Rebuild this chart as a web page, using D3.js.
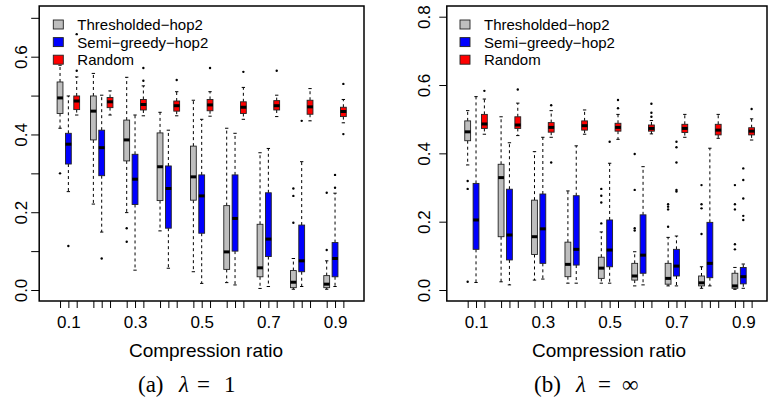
<!DOCTYPE html>
<html>
<head>
<meta charset="utf-8">
<script src="https://cdn.jsdelivr.net/npm/d3@7"></script>
<style>
  body { margin: 0; background: #fff; }
  text { font-family: "Liberation Sans", Arial, Helvetica, sans-serif; fill: #000; }
  .cap { font-family: "Liberation Serif", "Times New Roman", serif; }
</style>
</head>
<body>
<div id="chart"></div>
<script>
// compression ratios (one group of three boxes each)
let ratios = ["0.1", "0.2", "0.3", "0.4", "0.5", "0.6", "0.7", "0.8", "0.9"];
let methods = ["Thresholded\u2212hop2", "Semi\u2212greedy\u2212hop2", "Random"];
let colors = ["#bebebe", "#0000ff", "#ff0000"];

// box stats per ratio: [lower whisker, q1, median, q3, upper whisker]
// (a) lambda = 1
let threshA = [[0.416, 0.454, 0.494, 0.535, 0.578], [0.221, 0.386, 0.46, 0.499, 0.557], [0.199, 0.332, 0.386, 0.437, 0.547],
  [0.152, 0.23, 0.317, 0.404, 0.457], [0.047, 0.231, 0.291, 0.37, 0.488], [0.019, 0.053, 0.098, 0.217, 0.416],
  [0.004, 0.034, 0.057, 0.169, 0.353], [0.002, 0.006, 0.02, 0.05, 0.081], [0.002, 0.006, 0.015, 0.037, 0.075]];
let threshAOut = [[0.30], [], [0.159, 0.124], [], [], [], [], [0.261, 0.242, 0.173], [0.25, 0.103]];
let semiA = [[0.253, 0.324, 0.375, 0.403, 0.499], [0.149, 0.294, 0.366, 0.411, 0.501], [0.051, 0.22, 0.285, 0.349, 0.45],
  [0.056, 0.159, 0.261, 0.319, 0.411], [0.017, 0.146, 0.242, 0.296, 0.439], [0.013, 0.1, 0.184, 0.296, 0.403],
  [0.009, 0.086, 0.131, 0.25, 0.364], [0.009, 0.047, 0.075, 0.167, 0.33], [0.009, 0.034, 0.081, 0.122, 0.249]];
let semiAOut = [[0.113], [0.081], [], [], [], [], [], [0.435], [0.296, 0.263]];
let randA = [[0.45, 0.464, 0.486, 0.499, 0.548], [0.45, 0.469, 0.484, 0.495, 0.512], [0.448, 0.463, 0.477, 0.49, 0.525],
  [0.448, 0.46, 0.474, 0.486, 0.51], [0.447, 0.461, 0.476, 0.49, 0.51], [0.439, 0.454, 0.47, 0.484, 0.521],
  [0.446, 0.463, 0.474, 0.487, 0.501], [0.435, 0.452, 0.471, 0.488, 0.518], [0.43, 0.446, 0.459, 0.47, 0.49]];
let randAOut = [[0.564, 0.658], [], [0.538, 0.571], [0.54], [0.571], [0.561], [0.564], [], [0.53, 0.401]];

// (b) lambda = infinity
let threshB = [[0.366, 0.437, 0.463, 0.495, 0.525], [0.024, 0.156, 0.329, 0.368, 0.507], [0.029, 0.104, 0.156, 0.263, 0.405],
  [0.02, 0.039, 0.075, 0.14, 0.29], [0.02, 0.034, 0.064, 0.096, 0.17], [0.012, 0.029, 0.041, 0.078, 0.112],
  [0.012, 0.017, 0.034, 0.078, 0.154], [0.005, 0.012, 0.021, 0.041, 0.068], [0.002, 0.005, 0.012, 0.049, 0.066]];
let threshBOut = [[0.319, 0.296, 0.024], [], [], [], [0.195, 0.256, 0.276, 0.296], [0.174, 0.181, 0.293, 0.398],
  [0.185, 0.236, 0.244, 0.251], [0.164, 0.239, 0.251, 0.307], [0.119, 0.134, 0.236, 0.251, 0.307]];
let semiB = [[0.022, 0.119, 0.205, 0.312, 0.566], [0.015, 0.088, 0.161, 0.295, 0.431], [0.032, 0.078, 0.179, 0.281, 0.447],
  [0.02, 0.073, 0.119, 0.276, 0.422], [0.02, 0.068, 0.117, 0.205, 0.371], [0.015, 0.049, 0.102, 0.22, 0.361],
  [0.012, 0.041, 0.07, 0.119, 0.158], [0.012, 0.036, 0.078, 0.198, 0.415], [0.005, 0.018, 0.039, 0.066, 0.076]];
let semiBOut = [[], [], [], [], [0.434], [], [0.288, 0.293, 0.373, 0.418, 0.434], [], [0.205, 0.217, 0.268, 0.322, 0.356]];
let randB = [[0.456, 0.473, 0.486, 0.514, 0.559], [0.452, 0.473, 0.483, 0.507, 0.547], [0.447, 0.462, 0.476, 0.49, 0.525],
  [0.456, 0.468, 0.481, 0.495, 0.527], [0.441, 0.465, 0.476, 0.488, 0.514], [0.457, 0.465, 0.473, 0.483, 0.496],
  [0.447, 0.461, 0.473, 0.485, 0.514], [0.444, 0.454, 0.468, 0.485, 0.514], [0.439, 0.454, 0.465, 0.475, 0.501]];
let randBOut = [[0.583], [0.587], [0.541, 0.373], [], [0.532, 0.556], [0.507, 0.519, 0.545], [], [], [0.53]];

let yTicksA = [0, 0.1, 0.2, 0.3, 0.4, 0.5, 0.6, 0.7];
let yTicksB = [0, 0.2, 0.4, 0.6, 0.8];

let width = 769, height = 399;
let svg = d3.select("#chart").append("svg")
    .attr("width", width)
    .attr("height", height);

function drawPanel(cfg) {
  let g = svg.append("g");
  let x = d3.scaleLinear().domain([-1.5, 37.5]).range([cfg.x0, cfg.x1]);
  let y = d3.scaleLinear().domain([0, cfg.yMax]).range([290, cfg.yMaxPx]);
  let unit = x(1) - x(0);
  let half = 0.35 * unit, stapleHalf = 0.2 * unit;

  let series = [cfg.thresh, cfg.semi, cfg.rand];
  let outs = [cfg.threshOut, cfg.semiOut, cfg.randOut];

  series.forEach((arr, j) => {
    arr.forEach((s, i) => {
      let cx = x(4 * i + j + 1);
      let b = g.append("g");
      // whiskers
      [[s[3], s[4]], [s[1], s[0]]].forEach(w => {
        b.append("line")
          .attr("x1", cx).attr("x2", cx)
          .attr("y1", y(w[0])).attr("y2", y(w[1]))
          .attr("stroke", "#000").attr("stroke-width", 1)
          .attr("stroke-dasharray", "3,3");
        b.append("line")
          .attr("x1", cx - stapleHalf).attr("x2", cx + stapleHalf)
          .attr("y1", y(w[1])).attr("y2", y(w[1]))
          .attr("stroke", "#000").attr("stroke-width", 1);
      });
      b.append("rect")
        .attr("x", cx - half).attr("width", 2 * half)
        .attr("y", y(s[3])).attr("height", y(s[1]) - y(s[3]))
        .attr("fill", colors[j]).attr("stroke", "#222").attr("stroke-width", 0.9);
      b.append("line")
        .attr("x1", cx - half).attr("x2", cx + half)
        .attr("y1", y(s[2])).attr("y2", y(s[2]))
        .attr("stroke", "#000").attr("stroke-width", 3);
      outs[j][i].forEach(v => {
        b.append("circle")
          .attr("cx", cx).attr("cy", y(v)).attr("r", 1.2)
          .attr("fill", "#000");
      });
    });
  });

  // x axis: one tick per box, labels on every other group
  let positions = [], labels = {};
  ratios.forEach((r, i) => {
    [0, 1, 2].forEach(j => positions.push(4 * i + j + 1));
    if (i % 2 == 0) labels[4 * i + 2] = r;
  });
  let xAxis = g.append("g")
    .attr("transform", "translate(0,301)")
    .call(d3.axisBottom(x).tickValues(positions).tickSize(7).tickPadding(8)
      .tickFormat(d => labels[d] || ""));
  xAxis.select(".domain").remove();
  xAxis.selectAll("text").style("font-size", "17px").attr("font-family", null);

  let yAxis = g.append("g")
    .attr("transform", "translate(" + cfg.x0 + ",0)")
    .call(d3.axisLeft(y).tickValues(cfg.yTicks).tickSize(cfg.tickLen)
      .tickFormat(d => (Math.round(d * 10) % 2 == 0) ? d3.format(".1f")(d) : ""));
  yAxis.select(".domain").remove();
  yAxis.selectAll("text")
    .style("font-size", "17px")
    .attr("x", null).attr("dy", null)
    .attr("text-anchor", "middle")
    .attr("transform", "translate(" + (-cfg.labelOff) + ",0) rotate(-90)");

  // frame
  g.append("rect")
    .attr("x", cfg.x0).attr("y", 6)
    .attr("width", cfg.frameRight - cfg.x0).attr("height", 295)
    .attr("fill", "none").attr("stroke", "#000").attr("stroke-width", 1.5);

  // legend
  let leg = g.append("g");
  methods.forEach((m, j) => {
    let ly = 24.5 + j * 17.6;
    leg.append("rect")
      .attr("x", cfg.legX).attr("y", ly - 4.5)
      .attr("width", 10).attr("height", 9)
      .attr("fill", colors[j]).attr("stroke", "#222").attr("stroke-width", 0.9);
    leg.append("text")
      .attr("x", cfg.legX + 24).attr("y", ly)
      .attr("dy", "0.36em")
      .style("font-size", "15px")
      .text(m);
  });

  g.append("text")
    .attr("x", cfg.titleX).attr("y", 357)
    .attr("text-anchor", "middle")
    .style("font-size", "19px")
    .text("Compression ratio");

  // caption
  let cap = g.append("text").attr("class", "cap").attr("y", 392).style("font-size", "23px");
  cfg.caption.forEach(p => {
    cap.append("tspan").attr("x", p[1]).style("font-style", p[2] ? "italic" : null).text(p[0]);
  });
}

drawPanel({
  x0: 39.2, x1: 364.2, frameRight: 364, yMax: 0.6, yMaxPx: 56.7, yTicks: yTicksA, tickLen: 8, labelOff: 12,
  thresh: threshA, semi: semiA, rand: randA, threshOut: threshAOut, semiOut: semiAOut, randOut: randAOut,
  legX: 53.3, titleX: 206,
  caption: [["(a)", 138], ["\u03bb", 179, true], ["=", 197], ["1", 224]]
});

drawPanel({
  x0: 446.8, x1: 772.5, frameRight: 767, yMax: 0.8, yMaxPx: 16.7, yTicks: yTicksB, tickLen: 7.5, labelOff: 17,
  thresh: threshB, semi: semiB, rand: randB, threshOut: threshBOut, semiOut: semiBOut, randOut: randBOut,
  legX: 460, titleX: 609,
  caption: [["(b)", 534], ["\u03bb", 576, true], ["=", 598], ["\u221e", 622]]
});
</script>
</body>
</html>
